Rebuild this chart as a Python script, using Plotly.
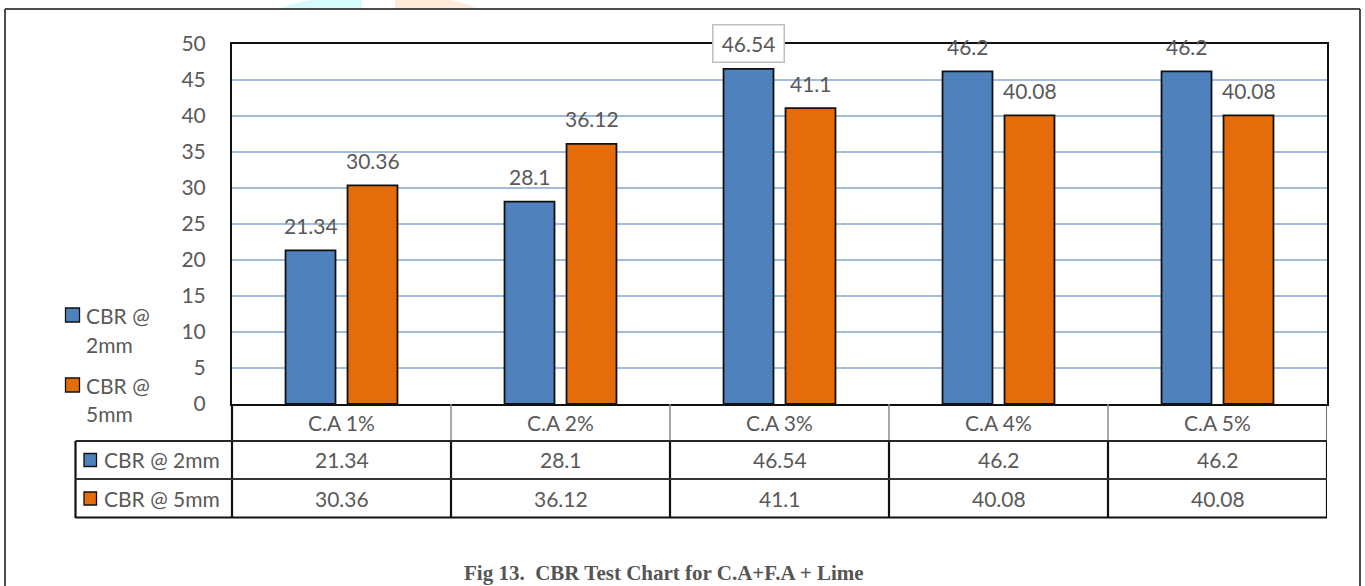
import plotly.graph_objects as go

# ---- data -------------------------------------------------------------
categories = ["C.A 1%", "C.A 2%", "C.A 3%", "C.A 4%", "C.A 5%"]
cbr_2mm = [21.34, 28.1, 46.54, 46.2, 46.2]
cbr_5mm = [30.36, 36.12, 41.1, 40.08, 40.08]
series_names = ["CBR @ 2mm", "CBR @ 5mm"]
y_ticks = [0, 5, 10, 15, 20, 25, 30, 35, 40, 45, 50]
caption = "Fig 13.  CBR Test Chart for C.A+F.A + Lime"

# ---- styling ----------------------------------------------------------
W, H = 1365, 586
PL, PR, PT, PB = 232, 1327, 44, 404          # plot area in pixels
BLUE, ORANGE = "#4F81BD", "#E46C0A"
TXT = "#595959"
FONT = "Lato"
FS = 21


def px(x):
    return (x - PL) / (PR - PL)


def py(y):
    return (PB - y) / (PB - PT)


fig = go.Figure()
for name, vals, col in [(series_names[0], cbr_2mm, BLUE), (series_names[1], cbr_5mm, ORANGE)]:
    fig.add_trace(go.Bar(
        x=categories, y=vals, name=name,
        marker=dict(color=col, line=dict(color="#111111", width=1.8)),
        showlegend=False,
    ))

annotations = []
shapes = []


def label(x, y, text, xref="paper", yref="paper", xanchor="center", **kw):
    a = dict(x=x, y=y, xref=xref, yref=yref, text=text, showarrow=False,
             xanchor=xanchor, yanchor="middle",
             font=dict(family=FONT, size=FS, color=TXT))
    a.update(kw)
    annotations.append(a)


# value labels above the bars
for vals, dx in [(cbr_2mm, -31), (cbr_5mm, 31)]:
    for c, v in zip(categories, vals):
        extra = dict(xshift=dx, yshift=25)
        if v == max(cbr_2mm) and dx < 0:
            extra.update(bordercolor="#BFBFBF", borderwidth=1.5, borderpad=7,
                         bgcolor="white", width=56, height=22)
        label(c, v, f"{v:g}", xref="x", yref="y", **extra)

# data table: category row
for c in categories:
    label(c, py(422), c, xref="x")
# data table: value rows
for row_y, vals in [(460, cbr_2mm), (498.5, cbr_5mm)]:
    for c, v in zip(categories, vals):
        label(c, py(row_y), f"{v:g}", xref="x")
# data table: row headers with colour keys
for row_y, name, col in [(460, series_names[0], BLUE), (498.5, series_names[1], ORANGE)]:
    shapes.append(dict(type="rect", xref="paper", yref="paper",
                       x0=px(84), x1=px(96.5), y0=py(row_y + 6.5), y1=py(row_y - 6.5),
                       fillcolor=col, line=dict(color="#111111", width=1.3)))
    label(px(102), py(row_y), name, xanchor="left")

# left-hand legend (wrapped labels)
for top, name, col in [(308, series_names[0], BLUE), (378, series_names[1], ORANGE)]:
    shapes.append(dict(type="rect", xref="paper", yref="paper",
                       x0=px(65.5), x1=px(79.5), y0=py(top + 14), y1=py(top),
                       fillcolor=col, line=dict(color="#111111", width=1.3)))
    first, second = name.rsplit(" ", 1)
    for dy, t in [(7, first), (36, second)]:
        label(px(84), py(top + dy), t, xanchor="left")


# table grid lines
def hline(y, x0, x1, color, width):
    shapes.append(dict(type="line", xref="paper", yref="paper", x0=px(x0), x1=px(x1),
                       y0=py(y), y1=py(y), line=dict(color=color, width=width)))


def vline(x, y0, y1, color, width, xref="paper"):
    xx = x if xref == "x" else px(x)
    shapes.append(dict(type="line", xref=xref, yref="paper", x0=xx, x1=xx,
                       y0=py(y0), y1=py(y1), line=dict(color=color, width=width)))


for i in range(1, len(categories)):
    vline(i - 0.5, 404, 441, "#8C8C8C", 1.5, xref="x")
    vline(i - 0.5, 441, 518, "#111111", 2.2, xref="x")
vline(len(categories) - 0.5, 404, 441, "#404040", 1.5, xref="x")
vline(len(categories) - 0.5, 441, 518, "#111111", 2.2, xref="x")
vline(PL, 404, 518, "#111111", 2.2)
vline(75.5, 441, 518, "#111111", 2.2)
hline(441, 75.5, PR, "#262626", 2)
hline(479, 75.5, PR, "#333333", 1.8)
hline(517.5, 75.5, PR, "#111111", 2.2)

# page decorations: faint header ornaments and the outer frame
shapes.append(dict(type="path", xref="paper", yref="paper", layer="below",
                   path=f"M {px(278)},{py(9)} Q {px(300)},{py(0)} {px(330)},{py(-2)} "
                        f"L {px(362)},{py(-2)} L {px(362)},{py(9)} Z",
                   fillcolor="#D6FBFB", line=dict(width=0)))
shapes.append(dict(type="path", xref="paper", yref="paper", layer="below",
                   path=f"M {px(395)},{py(9)} L {px(395)},{py(-2)} L {px(440)},{py(-2)} "
                        f"Q {px(465)},{py(2)} {px(478)},{py(9)} Z",
                   fillcolor="#FFEBD8", line=dict(width=0)))
hline(9, 5, 1360, "#111111", 1.5)
vline(5, 9, 590, "#3A3A3A", 1.8)
vline(1360, 9, 590, "#3A3A3A", 1.8)

# caption
label(px(664), py(573), f"<b>{caption}</b>",
      font=dict(family="Liberation Serif", size=21, color="#555555"))

fig.update_layout(
    width=W, height=H,
    margin=dict(l=PL, r=W - PR, t=PT, b=H - PB),
    paper_bgcolor="white", plot_bgcolor="white",
    barmode="group", bargap=0.434, bargroupgap=0.194,
    annotations=annotations, shapes=shapes,
    xaxis=dict(type="category", showticklabels=False, ticks="", showgrid=False,
               showline=True, linecolor="#111111", linewidth=2, mirror=True,
               range=[-0.5, len(categories) - 0.5]),
    yaxis=dict(range=[0, 50], tickvals=y_ticks, ticks="", showgrid=True,
               gridcolor="#A2BCDD", gridwidth=2, zeroline=False,
               showline=True, linecolor="#111111", linewidth=2, mirror=True,
               tickfont=dict(family=FONT, size=FS, color=TXT), ticklabelstandoff=20),
    font=dict(family=FONT, color=TXT),
)

fig.write_html("out.html")
